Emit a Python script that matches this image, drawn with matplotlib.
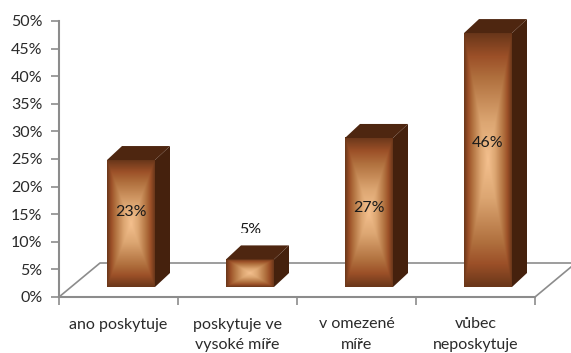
import matplotlib
matplotlib.use("Agg")
import matplotlib.pyplot as plt
import numpy as np
from matplotlib.colors import LinearSegmentedColormap
from matplotlib.patches import Polygon
from matplotlib.transforms import Bbox

categories = ["ano poskytuje", "poskytuje ve\nvysoké míře", "v omezené\nmíře", "vůbec\nneposkytuje"]
values = [23, 5, 27, 46]
y_ticks = list(range(0, 55, 5))

plt.rcParams["font.family"] = ["Lato", "DejaVu Sans"]

W, H = 571, 353
fig = plt.figure(figsize=(W / 100, H / 100), dpi=100)
ax = fig.add_axes([59 / W, (H - 297) / H, 476 / W, 276 / H])
ax.set_xlim(0, 4)
ax.set_ylim(0, 50)

# pixel to data scale
px_x = 4 / 476
px_y = 50 / 276

gray = "#8c8c8c"
text_color = "#2a2a2a"
font_size = 11.5
brown = LinearSegmentedColormap.from_list(
    "copper_box",
    [(0, "#f4c08e"), (0.3, "#dca672"), (0.65, "#b0703e"), (0.82, "#9c5028"), (1, "#6a371a")],
)

# rectangular gradient for the bar fronts
n = 200
u, v = np.meshgrid(np.linspace(-1, 1, n), np.linspace(-1, 1, n))
box = np.maximum(np.abs(u), np.abs(v))

# floor of the 3D chart
floor_dx, floor_dy = 41 * px_x, 34 * px_y
ax.plot([0, floor_dx, 4 + 36 * px_x], [0, floor_dy, floor_dy], color=gray, lw=1.2, clip_on=False, zorder=1)
ax.plot([4, 4 + 36 * px_x], [0, 30 * px_y], color=gray, lw=1.2, clip_on=False, zorder=1)

base = 10 * px_y
bar_w = 48 * px_x
depth_x, depth_y = 15 * px_x, 14 * px_y
lefts = [(107 - 59) * px_x + i * 119 * px_x for i in range(len(values))]

# height of each value label above the axis, the small bar's label is handled below
label_heights = [15.4, None, 16.1, 27.9]

for left, val, label_y in zip(lefts, values, label_heights):
    right = left + bar_w
    top = base + val
    ax.imshow(box, cmap=brown, vmin=0, vmax=1, aspect="auto", extent=[left, right, base, top], zorder=3)
    ax.add_patch(Polygon([(right, base), (right + depth_x, base + depth_y), (right + depth_x, top + depth_y), (right, top)],
                         closed=True, fc="#45210d", ec="none", zorder=3, clip_on=False))
    ax.add_patch(Polygon([(left, top), (left + depth_x, top + depth_y), (right + depth_x, top + depth_y), (right, top)],
                         closed=True, fc="#4e2610", ec="none", zorder=3, clip_on=False))
    if label_y is None:
        # this label sits above its bar and is cut along the bottom
        label = ax.text((left + right) / 2, top + depth_y + 15 * px_y, f"{val}%", ha="center", va="center",
                        fontsize=font_size, color="#1a1a1a", zorder=4)
        label.set_clip_on(True)
        label.set_clip_box(Bbox([[0, H - 233], [W, H]]))
    else:
        ax.text((left + right) / 2, label_y, f"{val}%", ha="center", va="center",
                fontsize=font_size, color="#1a1a1a", zorder=4, clip_on=False)

ax.set_xlim(0, 4)
ax.set_ylim(0, 50)

for s in ["top", "right"]:
    ax.spines[s].set_visible(False)
for s in ["left", "bottom"]:
    ax.spines[s].set_color(gray)
    ax.spines[s].set_linewidth(1.5)
    ax.spines[s].set_zorder(2)

ax.set_yticks(y_ticks)
ax.set_yticklabels([f"{t}%" for t in y_ticks], fontsize=font_size, color=text_color)
ax.set_xticks(range(5))
ax.set_xticklabels([])
ax.tick_params(axis="both", length=6, width=1.2, color=gray)
ax.tick_params(axis="y", pad=6)

for i, name in enumerate(categories):
    ax.text(i + 0.5, -20.5 * px_y, name, ha="center", va="top", fontsize=font_size, color=text_color,
            linespacing=1.55, clip_on=False)

fig.savefig("out.png", dpi=100)
